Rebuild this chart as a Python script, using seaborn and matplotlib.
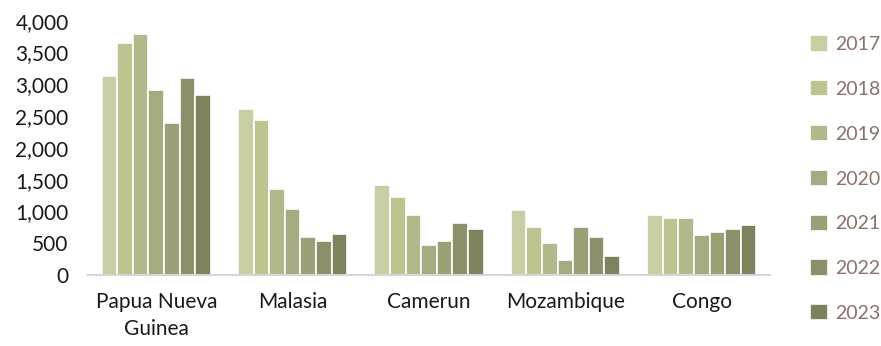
import matplotlib.pyplot as plt
import pandas as pd
import seaborn as sns
from matplotlib.ticker import FuncFormatter

countries = ["Papua Nueva\nGuinea", "Malasia", "Camerun", "Mozambique", "Congo"]
years = ["2017", "2018", "2019", "2020", "2021", "2022", "2023"]

v2017 = [3130, 2605, 1420, 1020, 950]
v2018 = [3650, 2440, 1230, 755, 905]
v2019 = [3785, 1360, 950, 510, 890]
v2020 = [2910, 1045, 480, 230, 625]
v2021 = [2385, 595, 540, 755, 670]
v2022 = [3095, 540, 815, 600, 720]
v2023 = [2835, 640, 730, 300, 795]

colors = ["#C8CDA4", "#BEC38F", "#B1B88A", "#A5AA80", "#9A9F75", "#8C8F6A", "#7D815C"]

sns.set_theme(style="white")
plt.rcParams["font.family"] = ["Lato", "DejaVu Sans"]

series = [v2017, v2018, v2019, v2020, v2021, v2022, v2023]
rows = []
for year, vals in zip(years, series):
    for c, v in zip(countries, vals):
        rows.append({"country": c, "year": year, "value": v})
df = pd.DataFrame(rows)

fig = plt.figure(figsize=(8.81, 3.46), dpi=100)
ax = fig.add_axes([0.100, 0.205, 0.774, 0.735])

sns.barplot(data=df, x="country", y="value", hue="year", palette=colors,
            saturation=1, width=0.8, edgecolor="white", linewidth=1.2,
            ax=ax, legend=True)

ax.set_ylim(0, 4000)
ax.set_xlim(-0.5, 4.5)
ax.set_yticks(range(0, 4001, 500))
ax.yaxis.set_major_formatter(FuncFormatter(lambda v, p: f"{int(v):,}"))
ax.set_xlabel("")
ax.set_ylabel("")
ax.tick_params(axis="both", length=0, labelsize=15, labelcolor="#1a1a1a")
ax.tick_params(axis="y", pad=14)
ax.tick_params(axis="x", pad=12)
for lab in ax.get_xticklabels():
    lab.set_linespacing(1.45)

for s in ["top", "right", "left"]:
    ax.spines[s].set_visible(False)
ax.spines["bottom"].set_color("#DAD4D2")
ax.spines["bottom"].set_linewidth(1.5)

handles, labels = ax.get_legend_handles_labels()
ax.legend_.remove()
leg = fig.legend(handles, labels, loc="upper left", bbox_to_anchor=(0.911, 0.92),
                 frameon=False, fontsize=14, labelspacing=1.39,
                 handlelength=0.9, handleheight=0.9, handletextpad=0.35,
                 borderaxespad=0)
for t in leg.get_texts():
    t.set_color("#8B716A")

fig.savefig("out.png", dpi=100)
